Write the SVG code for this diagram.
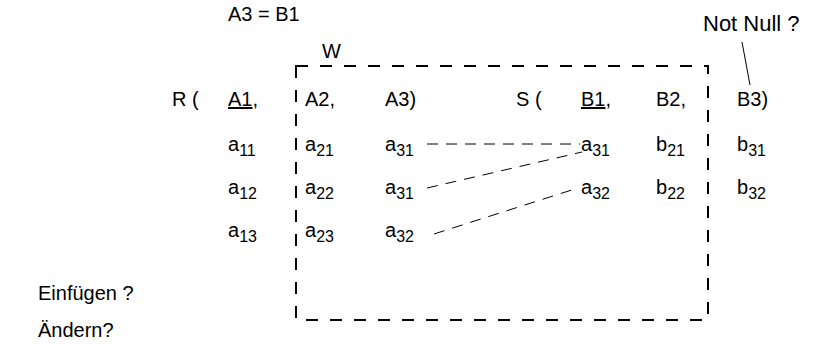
<svg xmlns="http://www.w3.org/2000/svg" width="816" height="345" viewBox="0 0 816 345">
<style>
text{font-family:"Liberation Sans",Arial,sans-serif;font-size:20px;fill:#000}
.sub{font-size:16px}
.box{fill:none;stroke:#000;stroke-width:2;stroke-dasharray:12 12}
.conn{fill:none;stroke:#000;stroke-width:1;stroke-dasharray:11 8}
</style>
<rect width="816" height="345" fill="#fff"/>
<g id="header">
<text x="228" y="21">A3 = B1</text>
<text x="322" y="58">W</text>
<text x="703" y="31" style="font-size:22px">Not Null ?</text>
<line x1="742" y1="42" x2="750" y2="85" stroke="#000" stroke-width="1"/>
</g>
<g id="window-W">
<rect class="box" x="296" y="66" width="412" height="254"/>
</g>
<g id="relation-R">
<text x="172" y="106">R (</text>
<text x="228" y="106"><tspan text-decoration="underline">A1</tspan>,</text>
<text x="305" y="106">A2,</text>
<text x="385" y="106">A3)</text>
<text x="228" y="151">a<tspan class="sub" dy="5">11</tspan></text>
<text x="305" y="151">a<tspan class="sub" dy="5">21</tspan></text>
<text x="385" y="151">a<tspan class="sub" dy="5">31</tspan></text>
<text x="228" y="194">a<tspan class="sub" dy="5">12</tspan></text>
<text x="305" y="194">a<tspan class="sub" dy="5">22</tspan></text>
<text x="385" y="194">a<tspan class="sub" dy="5">31</tspan></text>
<text x="228" y="237">a<tspan class="sub" dy="5">13</tspan></text>
<text x="305" y="237">a<tspan class="sub" dy="5">23</tspan></text>
<text x="385" y="237">a<tspan class="sub" dy="5">32</tspan></text>
</g>
<g id="relation-S">
<text x="516" y="106">S (</text>
<text x="581" y="106"><tspan text-decoration="underline">B1</tspan>,</text>
<text x="656" y="106">B2,</text>
<text x="737" y="106">B3)</text>
<text x="581" y="151">a<tspan class="sub" dy="5">31</tspan></text>
<text x="656" y="151">b<tspan class="sub" dy="5">21</tspan></text>
<text x="737" y="151">b<tspan class="sub" dy="5">31</tspan></text>
<text x="581" y="194">a<tspan class="sub" dy="5">32</tspan></text>
<text x="656" y="194">b<tspan class="sub" dy="5">22</tspan></text>
<text x="737" y="194">b<tspan class="sub" dy="5">32</tspan></text>
</g>
<g id="connectors">
<line class="conn" x1="427" y1="144" x2="580" y2="144"/>
<line class="conn" x1="427" y1="188" x2="582" y2="152"/>
<line class="conn" x1="434" y1="234" x2="578" y2="188"/>
</g>
<g id="questions">
<text x="38" y="300">Einfügen ?</text>
<text x="38" y="337">Ändern?</text>
</g>
</svg>
